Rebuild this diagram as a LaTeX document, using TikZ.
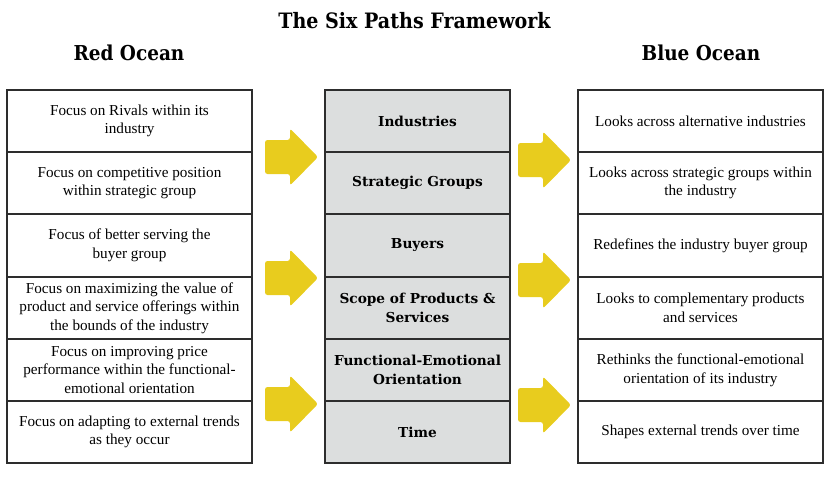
\documentclass[tikz,border=0pt]{standalone}
\usepackage{fontspec}
\setmainfont{Liberation Serif}
\newfontfamily\headfont{DejaVu Serif Condensed}
\newfontfamily\midfont{DejaVu Serif}
\definecolor{bordercol}{RGB}{45,45,45}
\definecolor{midfill}{RGB}{220,222,222}
\definecolor{arrowyellow}{RGB}{232,204,30}
\tikzset{
  cell/.style={draw=bordercol, line width=1.2pt, minimum height=62pt, align=center, inner sep=0pt,
    font=\fontsize{15.2}{18.6}\selectfont},
  sidecell/.style={cell, fill=white, minimum width=245pt},
  midcell/.style={cell, fill=midfill, minimum width=185pt, font=\midfont\bfseries\fontsize{13.7}{19}\selectfont},
  heading/.style={font=\headfont\bfseries\fontsize{20.5}{24}\selectfont, anchor=base},
  yarrow/.pic={\fill[arrowyellow, rounded corners=2.5pt] (0,-17) -- (25,-17) -- (25,-28.5) -- (53,0) -- (25,28.5) -- (25,17) -- (0,17) -- cycle;}
}
\begin{document}
\begin{tikzpicture}[x=1pt,y=-1pt]
\useasboundingbox (0,0) rectangle (826,480);
\node[heading, font=\headfont\bfseries\fontsize{21.2}{24}\selectfont] (title) at (414.5,28) {The Six Paths Framework};
\node[heading] (red) at (129,60) {Red Ocean};
\node[heading] (blue) at (701,60) {Blue Ocean};
% left column
\node[sidecell] (l1) at (129.5,121) {Focus on Rivals within its\\industry};
\node[sidecell] (l2) at (129.5,183) {Focus on competitive position\\within strategic group};
\node[sidecell] (l3) at (129.5,245.5) {Focus of better serving the\\buyer group};
\node[sidecell] (l4) at (129.5,308) {Focus on maximizing the value of\\product and service offerings within\\the bounds of the industry};
\node[sidecell] (l5) at (129.5,370) {Focus on improving price\\performance within the functional-\\emotional orientation};
\node[sidecell] (l6) at (129.5,432) {Focus on adapting to external trends\\as they occur};
% middle column
\node[midcell] (m1) at (417.5,121) {Industries};
\node[midcell] (m2) at (417.5,183) {Strategic Groups};
\node[midcell] (m3) at (417.5,245.5) {Buyers};
\node[midcell] (m4) at (417.5,308) {Scope of Products \&\\Services};
\node[midcell] (m5) at (417.5,370) {Functional-Emotional\\Orientation};
\node[midcell] (m6) at (417.5,432) {Time};
% right column
\node[sidecell] (r1) at (700.5,121) {Looks across alternative industries};
\node[sidecell] (r2) at (700.5,183) {Looks across strategic groups within\\the industry};
\node[sidecell] (r3) at (700.5,245.5) {Redefines the industry buyer group};
\node[sidecell] (r4) at (700.5,308) {Looks to complementary products\\and services};
\node[sidecell] (r5) at (700.5,370) {Rethinks the functional-emotional\\orientation of its industry};
\node[sidecell] (r6) at (700.5,432) {Shapes external trends over time};
% arrows
\coordinate (la1) at (265,157);
\coordinate (la2) at (265,278);
\coordinate (la3) at (265,404);
\coordinate (ra1) at (518,160);
\coordinate (ra2) at (518,280);
\coordinate (ra3) at (518,405);
\foreach \a in {la1,la2,la3,ra1,ra2,ra3} { \pic at (\a) {yarrow}; }
\end{tikzpicture}
\end{document}
